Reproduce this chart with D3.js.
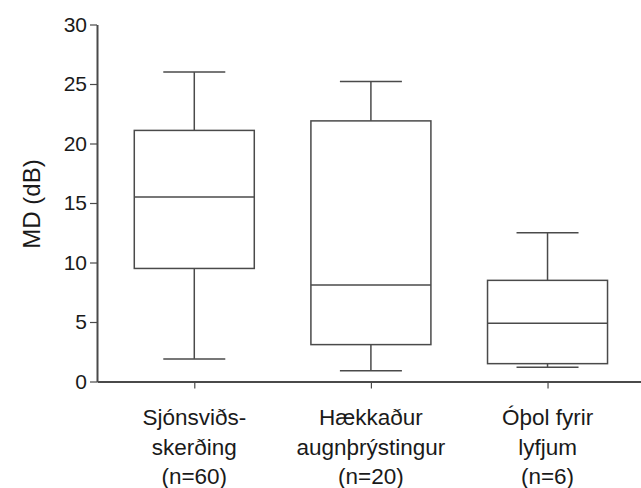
<!DOCTYPE html>
<html>
<head>
<meta charset="utf-8">
<script src="https://cdn.jsdelivr.net/npm/d3@7"></script>
<style>
  html, body { margin: 0; padding: 0; background: #fff; }
  svg { display: block; font-family: "Liberation Sans", Arial, Helvetica, sans-serif; }
</style>
</head>
<body>
<svg id="chart" width="641" height="488"></svg>
<script>
// Groups and their label lines
const categories = ["Sjónsviðs-skerðing", "Hækkaður augnþrýstingur", "Óþol fyrir lyfjum"];
const labelLines = [
  ["Sjónsviðs-", "skerðing", "(n=60)"],
  ["Hækkaður", "augnþrýstingur", "(n=20)"],
  ["Óþol fyrir", "lyfjum", "(n=6)"]
];
// Five-number summaries of MD (dB) per group
const whiskerLow  = [1.9, 0.9, 1.2];
const q1          = [9.5, 3.1, 1.5];
const median      = [15.5, 8.1, 4.9];
const q3          = [21.1, 21.9, 8.5];
const whiskerHigh = [26.0, 25.2, 12.5];
const yTicks = [0, 5, 10, 15, 20, 25, 30];

const svg = d3.select("#chart");
const stroke = "#4a4a4a";

const y = d3.scaleLinear().domain([0, 30]).range([381.5, 24.5]);
const x = d3.scalePoint().domain(categories).range([97, 641]).padding(0.54).align(0.51);
const boxW = 120, capW = 62;

// Y axis
const yAxis = svg.append("g")
  .attr("transform", "translate(97,0)")
  .call(d3.axisLeft(y).tickValues(yTicks).tickSize(7).tickSizeOuter(0).tickPadding(3));
yAxis.select(".domain").attr("stroke", stroke).attr("stroke-width", 2);
yAxis.selectAll(".tick line").attr("stroke", stroke).attr("stroke-width", 1.2);
yAxis.selectAll(".tick text").attr("font-size", 21).attr("fill", "#1a1a1a")
  .attr("font-family", "Liberation Sans, Arial, sans-serif");

// X axis
const xAxis = svg.append("g")
  .attr("transform", "translate(0,381.5)")
  .call(d3.axisBottom(x).tickSize(7).tickSizeOuter(0).tickFormat(""));
xAxis.select(".domain").attr("stroke", stroke).attr("stroke-width", 2);
xAxis.selectAll(".tick line").attr("stroke", stroke).attr("stroke-width", 1.2);

// Multi-line category labels
categories.forEach((c, i) => {
  const t = svg.append("text")
    .attr("text-anchor", "middle")
    .attr("font-size", 22.5)
    .attr("fill", "#1a1a1a");
  labelLines[i].forEach((line, j) => {
    t.append("tspan")
      .attr("x", x(c))
      .attr("y", 425 + j * 29.5)
      .text(line);
  });
});

// Y axis title
svg.append("text")
  .attr("transform", "translate(40,204) rotate(-90)")
  .attr("text-anchor", "middle")
  .attr("font-size", 24)
  .attr("fill", "#1a1a1a")
  .text("MD (dB)");

// Box plots
const boxes = svg.append("g")
  .attr("fill", "none")
  .attr("stroke", stroke)
  .attr("stroke-width", 1.5);

categories.forEach((c, i) => {
  const cx = x(c);
  const g = boxes.append("g");
  // whiskers
  g.append("line").attr("x1", cx).attr("x2", cx).attr("y1", y(q3[i])).attr("y2", y(whiskerHigh[i]));
  g.append("line").attr("x1", cx).attr("x2", cx).attr("y1", y(q1[i])).attr("y2", y(whiskerLow[i]));
  // caps
  g.append("line").attr("x1", cx - capW / 2).attr("x2", cx + capW / 2)
    .attr("y1", y(whiskerHigh[i])).attr("y2", y(whiskerHigh[i]));
  g.append("line").attr("x1", cx - capW / 2).attr("x2", cx + capW / 2)
    .attr("y1", y(whiskerLow[i])).attr("y2", y(whiskerLow[i]));
  // box
  g.append("rect").attr("x", cx - boxW / 2).attr("width", boxW)
    .attr("y", y(q3[i])).attr("height", y(q1[i]) - y(q3[i]))
    .attr("fill", "#fff");
  // median
  g.append("line").attr("x1", cx - boxW / 2).attr("x2", cx + boxW / 2)
    .attr("y1", y(median[i])).attr("y2", y(median[i]));
});
</script>
</body>
</html>
